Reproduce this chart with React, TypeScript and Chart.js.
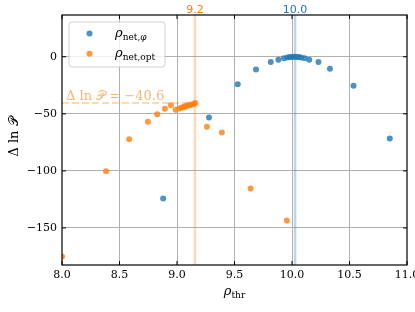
import React, { useEffect, useRef } from "react";
import { Chart, registerables } from "chart.js";

Chart.register(...registerables);

// rho_net,phi series
const phiRho = [8.88, 9.278, 9.528, 9.687, 9.815, 9.882, 9.93, 9.96, 9.98, 10.0, 10.02, 10.04, 10.06, 10.08, 10.11, 10.15, 10.23, 10.33, 10.535, 10.85];
const phiDelta = [-124.3, -53.2, -24.0, -11.1, -4.5, -2.6, -1.2, -0.6, -0.3, -0.1, 0.0, -0.1, -0.3, -0.6, -1.2, -2.6, -4.7, -10.5, -25.4, -71.6];

// rho_net,opt series
const optRho = [8.0, 8.383, 8.584, 8.747, 8.828, 8.895, 8.947, 8.988, 9.02, 9.04, 9.055, 9.07, 9.085, 9.1, 9.115, 9.13, 9.145, 9.16, 9.26, 9.39, 9.64, 9.955];
const optDelta = [-175.0, -100.3, -72.2, -57.0, -50.3, -45.6, -42.4, -46.5, -45.3, -44.6, -44.0, -43.5, -43.0, -42.6, -42.2, -41.8, -41.3, -40.6, -61.4, -66.4, -115.5, -143.6];

const xTicks = [8.0, 8.5, 9.0, 9.5, 10.0, 10.5, 11.0];
const yTicks = [-150, -100, -50, 0];
const xRange = [8.0, 11.0];
const yRange = [-182.5, 36.6];

const bestPhiRho = 10.027;
const bestOptRho = 9.156;
const bestOptDelta = -40.6;

const BLUE = "rgba(31,119,180,0.8)";
const ORANGE = "rgba(255,127,14,0.8)";
const SERIF = "'DejaVu Serif', 'DejaVu Sans', serif";
const SANS = "'DejaVu Sans', sans-serif";

type Part = [string, string, number];

function drawMath(ctx: CanvasRenderingContext2D, x: number, y: number, parts: Part[], align: "left" | "center") {
  let w = 0;
  parts.forEach((p) => {
    ctx.font = p[1];
    w += ctx.measureText(p[0]).width;
  });
  let cx = align === "center" ? x - w / 2 : x;
  ctx.textAlign = "left";
  ctx.textBaseline = "alphabetic";
  parts.forEach((p) => {
    ctx.font = p[1];
    ctx.fillText(p[0], cx, y + p[2]);
    cx += ctx.measureText(p[0]).width;
  });
}

const overlay = {
  id: "overlay",
  beforeDatasetsDraw(chart: any) {
    const { ctx, chartArea: a, scales } = chart;
    const x = scales.x;
    const y = scales.y;
    ctx.save();
    ctx.beginPath();
    ctx.rect(a.left, a.top, a.right - a.left, a.bottom - a.top);
    ctx.clip();
    const xo = x.getPixelForValue(bestOptRho);
    const xp = x.getPixelForValue(bestPhiRho);
    ctx.lineWidth = 2.5;
    ctx.strokeStyle = "rgba(255,127,14,0.3)";
    ctx.beginPath();
    ctx.moveTo(xo, a.top);
    ctx.lineTo(xo, a.bottom);
    ctx.stroke();
    ctx.strokeStyle = "rgba(31,119,180,0.3)";
    ctx.beginPath();
    ctx.moveTo(xp, a.top);
    ctx.lineTo(xp, a.bottom);
    ctx.stroke();
    const yo = y.getPixelForValue(bestOptDelta);
    ctx.strokeStyle = "rgba(255,127,14,0.3)";
    ctx.lineWidth = 2;
    ctx.setLineDash([7, 3]);
    ctx.beginPath();
    ctx.moveTo(a.left, yo);
    ctx.lineTo(xo, yo);
    ctx.stroke();
    ctx.setLineDash([]);
    ctx.restore();
  },
  afterDatasetsDraw(chart: any) {
    const { ctx, chartArea: a, scales } = chart;
    const x = scales.x;
    const y = scales.y;
    ctx.save();

    // annotation
    const yo = y.getPixelForValue(bestOptDelta);
    ctx.fillStyle = "rgba(255,127,14,0.6)";
    drawMath(ctx, a.left + 4, yo - 3, [
      ["\u0394 ln ", `13px ${SERIF}`, 0],
      ["\uD835\uDCAB", `13px ${SERIF}`, 0],
      [" = \u2212" + Math.abs(bestOptDelta).toFixed(1), `13px ${SERIF}`, 0],
    ], "left");

    // spines
    ctx.strokeStyle = "#000";
    ctx.lineWidth = 1.2;
    ctx.strokeRect(a.left, a.top, a.right - a.left, a.bottom - a.top);

    // inward ticks
    ctx.lineWidth = 1;
    const tl = 4;
    xTicks.forEach((v) => {
      const px = x.getPixelForValue(v);
      ctx.beginPath();
      ctx.moveTo(px, a.bottom);
      ctx.lineTo(px, a.bottom - tl);
      ctx.moveTo(px, a.top);
      ctx.lineTo(px, a.top + tl);
      ctx.stroke();
    });
    yTicks.forEach((v) => {
      const py = y.getPixelForValue(v);
      ctx.beginPath();
      ctx.moveTo(a.left, py);
      ctx.lineTo(a.left + tl, py);
      ctx.moveTo(a.right, py);
      ctx.lineTo(a.right - tl, py);
      ctx.stroke();
    });

    // top labels
    ctx.font = `11px ${SANS}`;
    ctx.textAlign = "center";
    ctx.textBaseline = "alphabetic";
    ctx.fillStyle = "#ff7f0e";
    ctx.fillText(bestOptRho.toFixed(1), x.getPixelForValue(bestOptRho), 12.5);
    ctx.fillStyle = "#1f77b4";
    ctx.fillText(bestPhiRho.toFixed(1), x.getPixelForValue(bestPhiRho), 12.5);

    // legend
    const lx = a.left + 7;
    const ly = a.top + 7;
    const lw = 96;
    const lh = 45;
    ctx.beginPath();
    if ((ctx as any).roundRect) (ctx as any).roundRect(lx, ly, lw, lh, 3);
    else ctx.rect(lx, ly, lw, lh);
    ctx.fillStyle = "rgba(255,255,255,0.8)";
    ctx.fill();
    ctx.strokeStyle = "rgba(204,204,204,0.9)";
    ctx.lineWidth = 1;
    ctx.stroke();
    const rows: [string, Part[]][] = [
      [BLUE, [["\u03C1", `italic 13px ${SERIF}`, 0], ["net,", `9px ${SERIF}`, 3], ["\u03C6", `italic 9px ${SERIF}`, 3]]],
      [ORANGE, [["\u03C1", `italic 13px ${SERIF}`, 0], ["net,opt", `9px ${SERIF}`, 3]]],
    ];
    rows.forEach((r, i) => {
      const cy = ly + 11.5 + i * 20.3;
      ctx.fillStyle = r[0];
      ctx.beginPath();
      ctx.arc(lx + 20.5, cy, 3, 0, Math.PI * 2);
      ctx.fill();
      ctx.fillStyle = "#000";
      drawMath(ctx, lx + 46, cy + 3.5, r[1], "left");
    });

    // x title
    ctx.fillStyle = "#000";
    drawMath(ctx, (a.left + a.right) / 2, 295, [
      ["\u03C1", `italic 13px ${SERIF}`, 0],
      ["thr", `9px ${SERIF}`, 3],
    ], "center");

    // y title
    ctx.save();
    ctx.translate(18, (a.top + a.bottom) / 2 - 3);
    ctx.rotate(-Math.PI / 2);
    drawMath(ctx, 0, 0, [
      ["\u0394 ln ", `13px ${SERIF}`, 0],
      ["\uD835\uDCAB", `13px ${SERIF}`, 0],
    ], "center");
    ctx.restore();

    ctx.restore();
  },
};

export default function App() {
  const ref = useRef<HTMLCanvasElement>(null);
  useEffect(() => {
    if (!ref.current) return;
    const pts = (xs: number[], ys: number[]) => xs.map((v, i) => ({ x: v, y: ys[i] }));
    const gridColor = (c: any) => {
      const v = c.tick ? c.tick.value : null;
      if (v === xRange[0] || v === xRange[1]) return "rgba(0,0,0,0)";
      return "#b0b0b0";
    };
    const chart = new Chart(ref.current, {
      type: "scatter",
      data: {
        datasets: [
          { label: "rho_net,phi", data: pts(phiRho, phiDelta), backgroundColor: BLUE, borderWidth: 0, pointRadius: 3, clip: 0 } as any,
          { label: "rho_net,opt", data: pts(optRho, optDelta), backgroundColor: ORANGE, borderWidth: 0, pointRadius: 3, clip: 0 } as any,
        ],
      },
      options: {
        animation: false,
        responsive: false,
        maintainAspectRatio: false,
        layout: { padding: { top: 15, right: 8, left: 0, bottom: 0 } },
        plugins: { legend: { display: false }, tooltip: { enabled: false } },
        scales: {
          x: {
            type: "linear",
            min: xRange[0],
            max: xRange[1],
            afterBuildTicks: (s: any) => {
              s.ticks = xTicks.map((v) => ({ value: v }));
            },
            afterFit: (s: any) => {
              s.height = 47;
              s.paddingLeft = 0;
              s.paddingRight = 0;
            },
            ticks: {
              callback: (v: any) => Number(v).toFixed(1),
              font: { family: "DejaVu Serif", size: 11 },
              color: "#000",
              padding: 4,
              maxRotation: 0,
              autoSkip: false,
            },
            grid: { color: gridColor, lineWidth: 1, drawTicks: false },
            border: { display: false },
          },
          y: {
            type: "linear",
            min: yRange[0],
            max: yRange[1],
            afterBuildTicks: (s: any) => {
              s.ticks = yTicks.map((v) => ({ value: v }));
            },
            afterFit: (s: any) => {
              s.width = 62;
              s.paddingTop = 0;
              s.paddingBottom = 0;
            },
            ticks: {
              callback: (v: any) => String(v).replace("-", "\u2212"),
              font: { family: "DejaVu Serif", size: 11 },
              color: "#000",
              padding: 5,
              autoSkip: false,
            },
            grid: { color: "#b0b0b0", lineWidth: 1, drawTicks: false },
            border: { display: false },
          },
        },
      },
      plugins: [overlay],
    } as any);
    return () => chart.destroy();
  }, []);
  return (
    <div style={{ position: "absolute", left: 0, top: 0, width: 415, height: 312 }}>
      <canvas ref={ref} width={415} height={312} style={{ display: "block" }} />
    </div>
  );
}
